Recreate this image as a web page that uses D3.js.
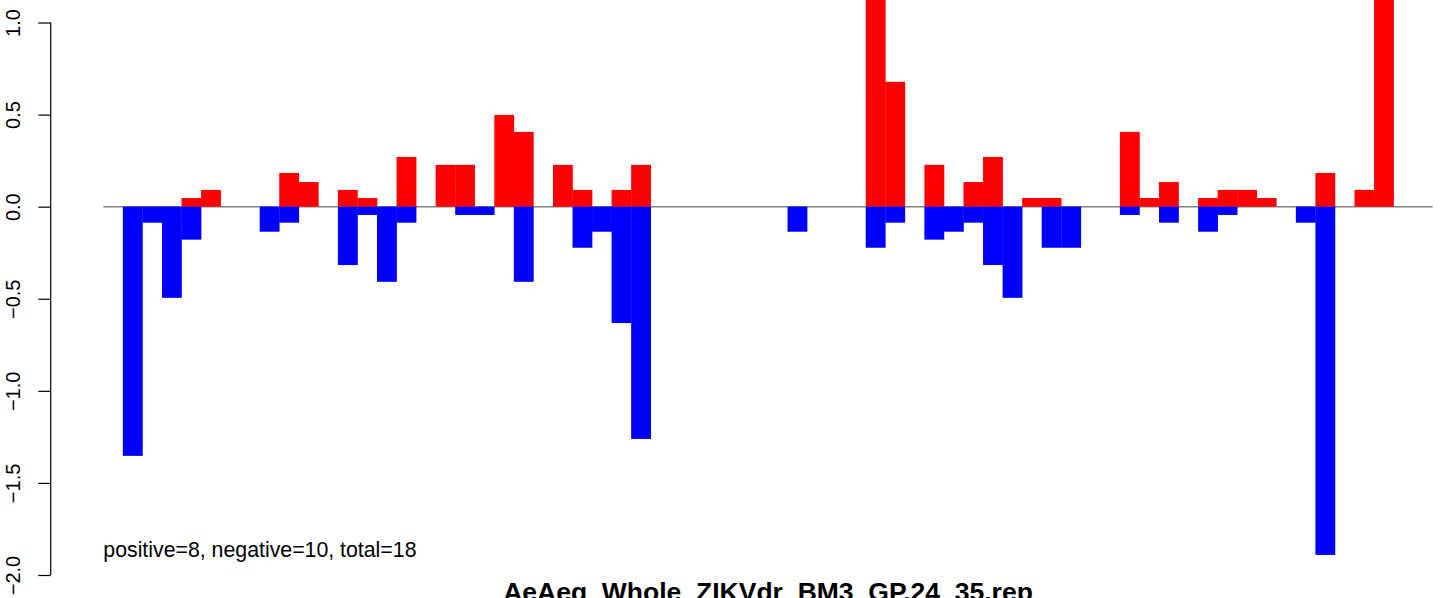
<!DOCTYPE html>
<html lang="en">
<head>
<meta charset="UTF-8">
<title>AeAeg_Whole_ZIKVdr_BM3_GP.24_35.rep</title>
<style>
    body { margin: 0; background: #fff; }
    svg { display: block; font-family: "Liberation Sans", Arial, Helvetica, sans-serif; }
</style>
<script src="https://d3js.org/d3.v7.min.js"></script>
</head>
<body>
<div id="chart"></div>
<script>
// positions along the x axis (68 slots, some empty)
const positions = d3.range(1, 69).map(String);

// positive part of each slot (red)
const upValues = [
    0, 0, 0, 0, 0.047, 0.091, 0, 0, 0, 0.183,
    0.134, 0, 0.091, 0.047, 0, 0.27, 0, 0.227, 0.227, 0,
    0.498, 0.406, 0, 0.227, 0.091, 0, 0.091, 0.227, 0, 0,
    0, 0, 0, 0, 0, 0, 0, 0, 0, 1.25,
    0.678, 0, 0.227, 0, 0.134, 0.27, 0, 0.047, 0.047, 0,
    0, 0, 0.406, 0.047, 0.134, 0, 0.047, 0.091, 0.091, 0.047,
    0, 0, 0.183, 0, 0.091, 1.25, 0, 0
];

// negative part of each slot (blue)
const downValues = [
    0, -1.353, -0.087, -0.495, -0.179, 0, 0, 0, -0.136, -0.087,
    0, 0, -0.317, -0.045, -0.408, -0.087, 0, 0, -0.045, -0.045,
    0, -0.408, 0, 0, -0.223, -0.136, -0.632, -1.261, 0, 0,
    0, 0, 0, 0, 0, -0.136, 0, 0, 0, -0.223,
    -0.087, 0, -0.179, -0.136, -0.087, -0.317, -0.495, 0, -0.223, -0.223,
    0, 0, -0.045, 0, -0.087, 0, -0.136, -0.045, 0, 0,
    0, -0.087, -1.891, 0, 0, 0, 0, 0
];

const yTicks = [-2.0, -1.5, -1.0, -0.5, 0.0, 0.5, 1.0];
const note = "positive=8, negative=10, total=18";
const title = "AeAeg_Whole_ZIKVdr_BM3_GP.24_35.rep";

const width = 1444, height = 598;

const svg = d3.select("#chart").append("svg")
    .attr("width", width)
    .attr("height", height);

const x = d3.scaleBand()
    .domain(positions)
    .range([103.3, 1432.7])
    .padding(0);

const y = d3.scaleLinear()
    .domain([-2, 1])
    .range([575, 22.5]);

// zero line sits under the bars
svg.append("line")
    .attr("x1", x.range()[0])
    .attr("x2", x.range()[1])
    .attr("y1", y(0))
    .attr("y2", y(0))
    .attr("stroke", "#808080")
    .attr("stroke-width", 1.5);

svg.append("g")
    .selectAll("rect")
    .data(upValues.map((v, i) => ({ pos: positions[i], v })).filter(d => d.v > 0))
    .join("rect")
    .attr("x", d => x(d.pos))
    .attr("width", x.bandwidth() + 0.3)
    .attr("y", d => y(d.v))
    .attr("height", d => y(0) - y(d.v))
    .attr("fill", "#ff0000");

svg.append("g")
    .selectAll("rect")
    .data(downValues.map((v, i) => ({ pos: positions[i], v })).filter(d => d.v < 0))
    .join("rect")
    .attr("x", d => x(d.pos))
    .attr("width", x.bandwidth() + 0.3)
    .attr("y", y(0))
    .attr("height", d => y(d.v) - y(0))
    .attr("fill", "#0000ff");

// left axis, R style with rotated labels
const axis = svg.append("g")
    .attr("transform", "translate(50.7,0)")
    .call(d3.axisLeft(y)
        .tickValues(yTicks)
        .tickSize(12.4)
        .tickPadding(0)
        .tickFormat(d => d3.format(".1f")(d).replace("-", "\u2212")));

axis.select(".domain")
    .attr("d", `M0,${y(1)}V${y(-2)}`)
    .attr("stroke", "#000")
    .attr("stroke-width", 1.2);
axis.selectAll(".tick line")
    .attr("stroke", "#000")
    .attr("stroke-width", 1.2);
axis.selectAll(".tick text")
    .attr("x", null)
    .attr("dy", null)
    .attr("transform", "translate(-31.2,0) rotate(-90)")
    .attr("text-anchor", "middle")
    .attr("fill", "#000")
    .style("font-size", "20px")
    .style("font-family", "'Liberation Sans', Arial, Helvetica, sans-serif");

svg.append("text")
    .attr("x", x.range()[0])
    .attr("y", 556.5)
    .attr("font-size", "21.3px")
    .attr("fill", "#000")
    .text(note);

svg.append("text")
    .attr("x", 768)
    .attr("y", 601)
    .attr("text-anchor", "middle")
    .attr("font-size", "26.5px")
    .attr("font-weight", "bold")
    .attr("fill", "#000")
    .text(title);
</script>
</body>
</html>
